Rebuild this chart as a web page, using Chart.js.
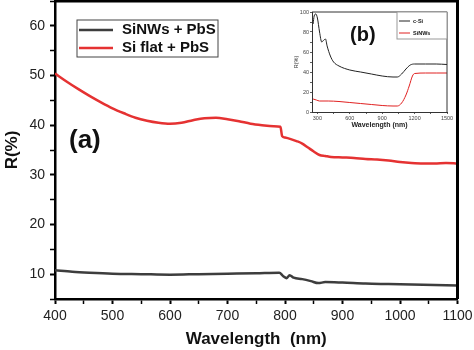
<!doctype html>
<html>

<head>
    <title>Reflectance</title>
    <script src="https://cdn.jsdelivr.net/npm/chart.js"></script>
    <style>
        body {
            margin: 0;
            background-color: white;
            font-family: Arial, "Liberation Sans"
        }

        #wrap {
            position: relative;
            width: 474px;
            height: 350px;
        }

        #main {
            position: absolute;
            left: 0;
            top: 0;
            z-index: 2;
        }

        #inset {
            position: absolute;
            left: 282px;
            top: 3px;
            z-index: 1;
            background-color: white;
        }
    </style>
</head>

<body>
    <div id="wrap">
        <canvas id="main" width="474" height="350"></canvas>
        <canvas id="inset" width="172" height="130"></canvas>
    </div>
    <script>
        // main plot (a): SiNWs + PbS
        const nwWl = [400, 430, 460, 500, 550, 600, 650, 700, 750, 790, 797, 803, 808, 815, 830, 845, 858, 870, 900, 940, 980, 1020, 1060, 1100]
        const nwR = [10.8, 10.5, 10.3, 10.1, 10.0, 9.9, 10.0, 10.1, 10.2, 10.3, 9.6, 9.2, 9.8, 9.3, 9.0, 8.6, 8.2, 8.4, 8.3, 8.1, 8.0, 7.9, 7.8, 7.7]

        // main plot (a): Si flat + PbS
        const flatWl = [400, 420, 440, 460, 480, 500, 520, 540, 560, 580, 600, 620, 640, 660, 680, 700, 720, 740, 760, 780, 792, 795, 800, 810, 820, 830, 840, 850, 860, 870, 880, 900, 920, 940, 960, 980, 1000, 1020, 1040, 1060, 1080, 1100]
        const flatR = [50.4, 48.8, 47.3, 45.9, 44.6, 43.4, 42.4, 41.5, 40.9, 40.5, 40.3, 40.5, 41.0, 41.4, 41.5, 41.2, 40.8, 40.3, 40.0, 39.8, 39.7, 37.8, 37.5, 37.2, 36.8, 36.3, 35.5, 34.7, 34.0, 33.8, 33.6, 33.5, 33.4, 33.2, 33.1, 32.9, 32.6, 32.4, 32.3, 32.3, 32.4, 32.3]

        // inset (b)
        const cSiWl = [260, 270, 285, 300, 320, 340, 360, 375, 390, 420, 450, 500, 600, 700, 800, 900, 1000, 1040, 1080, 1120, 1160, 1200, 1300, 1400, 1500]
        const cSiR = [88, 96, 98, 94, 80, 70, 72, 73, 66, 56, 50, 46, 42, 40, 38, 36, 35, 35, 38, 43, 47, 48, 48, 48, 47.5]
        const sinwWl = [260, 290, 320, 400, 500, 600, 700, 800, 900, 1000, 1040, 1080, 1120, 1150, 1180, 1200, 1300, 1400, 1500]
        const sinwR = [13, 12, 11, 11, 10.5, 9.5, 8.5, 7.5, 6.5, 6, 6, 9, 17, 26, 36, 38.5, 39, 39, 39]
        const insetXTicks = [300, 450, 600, 750, 900, 1050, 1200, 1350, 1500]

        const pts = (xs, ys) => xs.map((x, i) => ({ x: x, y: ys[i] }))

        Chart.defaults.font.family = 'Arial, "Liberation Sans"'

        // box legend + panel tag + top/right frame
        const panelDecor = {
            id: 'panelDecor',
            afterDraw(chart, args, o) {
                const ctx = chart.ctx
                const a = chart.chartArea
                ctx.save()
                ctx.strokeStyle = o.frameColor
                ctx.lineWidth = o.frameWidth
                ctx.beginPath()
                ctx.moveTo(a.left, a.top)
                ctx.lineTo(a.right, a.top)
                ctx.lineTo(a.right, a.bottom)
                ctx.stroke()

                ctx.fillStyle = '#111'
                ctx.textBaseline = 'middle'
                ctx.font = o.tagFont
                ctx.fillText(o.tag, a.left + o.tagX, a.top + o.tagY)

                const x = a.left + o.x, y = a.top + o.y
                ctx.fillStyle = 'white'
                ctx.fillRect(x, y, o.w, o.h)
                ctx.strokeStyle = o.borderColor
                ctx.lineWidth = 1
                ctx.strokeRect(x, y, o.w, o.h)
                ctx.font = o.font
                chart.data.datasets.forEach((ds, i) => {
                    const ly = y + o.rowTop + i * o.rowGap
                    ctx.strokeStyle = ds.borderColor
                    ctx.lineWidth = ds.borderWidth
                    ctx.beginPath()
                    ctx.moveTo(x + o.lineX0, ly)
                    ctx.lineTo(x + o.lineX1, ly)
                    ctx.stroke()
                    ctx.fillStyle = '#111'
                    ctx.fillText(ds.label, x + o.textX, ly)
                })
                ctx.restore()
            }
        }

        new Chart(document.getElementById('main'), {
            type: 'line',
            data: {
                datasets: [
                    { label: 'SiNWs + PbS', data: pts(nwWl, nwR), borderColor: '#3d3d3d', borderWidth: 2.5 },
                    { label: 'Si flat + PbS', data: pts(flatWl, flatR), borderColor: '#e53232', borderWidth: 2.5 }
                ]
            },
            plugins: [panelDecor],
            options: {
                responsive: false,
                animation: false,
                layout: { padding: { top: 1, right: 16.5, left: 0, bottom: 0 } },
                elements: {
                    point: { radius: 0 },
                    line: { cubicInterpolationMode: 'monotone' }
                },
                scales: {
                    x: {
                        type: 'linear', min: 400, max: 1100,
                        ticks: {
                            stepSize: 50, autoSkip: false, maxRotation: 0, padding: 4, color: '#222',
                            font: { size: 14 },
                            callback: v => v % 100 === 0 ? v : ''
                        },
                        grid: {
                            drawOnChartArea: false, color: '#000', tickLength: 5,
                            tickWidth: c => (c.tick && c.tick.value % 100 === 0) ? 2 : 1.5
                        },
                        border: { color: '#000', width: 2.5 },
                        title: {
                            display: true, text: 'Wavelength  (nm)', color: '#111',
                            font: { size: 17, weight: 'bold' }, padding: 0
                        },
                        afterFit: s => { s.height = 51; s.paddingLeft = 0; s.paddingRight = 0 }
                    },
                    y: {
                        min: 5, max: 65,
                        ticks: {
                            stepSize: 5, autoSkip: false, padding: 5, color: '#222',
                            font: { size: 14 },
                            callback: v => (v % 10 === 0) ? v : ''
                        },
                        grid: {
                            drawOnChartArea: false, color: '#000', tickLength: 5,
                            tickWidth: c => (c.tick && c.tick.value % 10 === 0) ? 2 : 1.5
                        },
                        border: { color: '#000', width: 2.5 },
                        title: {
                            display: true, text: 'R(%)', color: '#111',
                            font: { size: 17, weight: 'bold' }, padding: { top: 2, bottom: 0 }
                        },
                        afterFit: s => { s.width = 55; s.paddingTop = 0; s.paddingBottom = 0 }
                    }
                },
                plugins: {
                    legend: { display: false },
                    tooltip: { enabled: false },
                    panelDecor: {
                        frameColor: '#000', frameWidth: 3,
                        tag: '(a)', tagFont: 'bold 26px Arial, "Liberation Sans"', tagX: 14, tagY: 140,
                        x: 22, y: 19, w: 141, h: 37, borderColor: '#444',
                        font: 'bold 15px Arial, "Liberation Sans"',
                        lineX0: 2, lineX1: 36, textX: 45, rowTop: 10, rowGap: 18
                    }
                }
            }
        })

        new Chart(document.getElementById('inset'), {
            type: 'line',
            data: {
                datasets: [
                    { label: 'c-Si', data: pts(cSiWl, cSiR), borderColor: '#222', borderWidth: 1 },
                    { label: 'SiNWs', data: pts(sinwWl, sinwR), borderColor: '#e02020', borderWidth: 1 }
                ]
            },
            plugins: [panelDecor],
            options: {
                responsive: false,
                animation: false,
                layout: { padding: { top: 9, right: 7, left: 0, bottom: 0 } },
                elements: {
                    point: { radius: 0 },
                    line: { cubicInterpolationMode: 'monotone' }
                },
                scales: {
                    x: {
                        type: 'linear', min: 250, max: 1500,
                        afterBuildTicks: s => { s.ticks = insetXTicks.map(v => ({ value: v })) },
                        ticks: {
                            autoSkip: false, maxRotation: 0, padding: 1, color: '#444',
                            font: { size: 5.5 },
                            callback: v => v % 300 === 0 ? v : ''
                        },
                        grid: { drawOnChartArea: false, color: '#333', tickLength: 2, tickWidth: 0.8 },
                        border: { color: '#333', width: 1 },
                        title: {
                            display: true, text: 'Wavelength (nm)', color: '#222',
                            font: { size: 7, weight: 'bold' }, padding: { top: 0, bottom: 4 }
                        },
                        afterFit: s => { s.height = 21; s.paddingLeft = 0; s.paddingRight = 0 }
                    },
                    y: {
                        min: 0, max: 100,
                        ticks: {
                            stepSize: 10, autoSkip: false, padding: 1, color: '#444',
                            font: { size: 5.5 },
                            callback: v => (v % 20 === 0) ? v : ''
                        },
                        grid: { drawOnChartArea: false, color: '#333', tickLength: 2, tickWidth: 0.8 },
                        border: { color: '#333', width: 1 },
                        title: {
                            display: true, text: 'R(%)', color: '#333',
                            font: { size: 5.5 }, padding: { top: 11, bottom: 0 }
                        },
                        afterFit: s => { s.width = 30; s.paddingTop = 0; s.paddingBottom = 0 }
                    }
                },
                plugins: {
                    legend: { display: false },
                    tooltip: { enabled: false },
                    panelDecor: {
                        frameColor: '#333', frameWidth: 1,
                        tag: '(b)', tagFont: 'bold 20px Arial, "Liberation Sans"', tagX: 38, tagY: 23,
                        x: 85, y: 0, w: 50, h: 27, borderColor: '#999',
                        font: 'bold 5.5px Arial, "Liberation Sans"',
                        lineX0: 2, lineX1: 13, textX: 16, rowTop: 9, rowGap: 12
                    }
                }
            }
        })
    </script>
</body>

</html>
